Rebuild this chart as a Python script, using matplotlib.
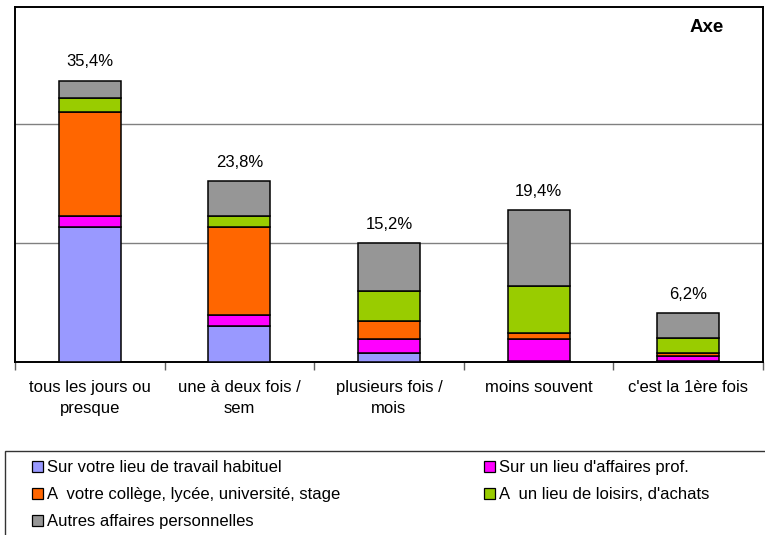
import matplotlib
matplotlib.use('Agg')
import matplotlib.pyplot as plt
from matplotlib.patches import Rectangle, Patch
import numpy as np

plt.rcParams['font.family'] = ['Liberation Sans', 'DejaVu Sans']

# Data (percent)
categories = ['tous les jours ou\npresque', 'une à deux fois /\nsem', 'plusieurs fois /\nmois',
              'moins souvent', "c'est la 1ère fois"]
travail = [17.1, 4.6, 1.2, 0.2, 0.15]
affaires_prof = [1.3, 1.3, 1.7, 2.7, 0.7]
college = [13.1, 11.2, 2.3, 0.8, 0.3]
loisirs = [1.8, 1.3, 3.8, 5.9, 1.85]
autres = [2.2, 4.4, 6.0, 9.6, 3.2]
total_labels = ['35,4%', '23,8%', '15,2%', '19,4%', '6,2%']

series = [
    ('Sur votre lieu de travail habituel', travail, '#9999FF'),
    ("Sur un lieu d'affaires prof.", affaires_prof, '#FF00FF'),
    ('A  votre collège, lycée, université, stage', college, '#FF6600'),
    ("A  un lieu de loisirs, d'achats", loisirs, '#99CC00'),
    ('Autres affaires personnelles', autres, '#969696'),
]

fig = plt.figure(figsize=(7.65, 5.35), dpi=100)
ax = fig.add_axes([15 / 765, 1 - 362.3 / 535, 748 / 765, 355.6 / 535])

x = np.arange(len(categories))
bottom = np.zeros(len(categories))
handles = []
for name, vals, color in series:
    ax.bar(x, vals, 0.414, bottom=bottom, color=color, edgecolor='black', linewidth=1.1, zorder=3)
    bottom += np.array(vals)
    handles.append(Patch(facecolor=color, edgecolor='black', linewidth=0.9, label=name))

# value labels above bars
for xi, top, lab in zip(x, bottom, total_labels):
    ax.annotate(lab, (xi, top), xytext=(0, 8), textcoords='offset points',
                ha='center', va='bottom', fontsize=12)

ax.set_xlim(-0.5, 4.5)
ax.set_ylim(0, 44.8)
ax.set_yticks([15, 30])
ax.yaxis.grid(True, color='#808080', linewidth=1.0, zorder=0)
ax.tick_params(axis='y', length=0, labelleft=False)

ax.set_xticks(np.arange(-0.5, 5, 1))
ax.set_xticklabels([])
ax.set_xticks(x, minor=True)
ax.set_xticklabels(categories, minor=True, fontsize=12, linespacing=1.5)
ax.tick_params(axis='x', which='major', length=6, width=1, color='#606060', direction='out')
ax.tick_params(axis='x', which='minor', length=0, pad=13)
for s in ax.spines.values():
    s.set_linewidth(1.4)
    s.set_color('black')

fig.text(707 / 765, 1 - 27 / 535, 'Axe', fontsize=13.5, fontweight='bold', ha='center', va='center')

# legend frame (runs off the right and bottom edges)
fig.add_artist(Rectangle((5 / 765, -0.1), 1.2, (1 - 451 / 535) + 0.1, transform=fig.transFigure,
                         fill=False, edgecolor='#333333', linewidth=1.0, clip_on=False))

common = dict(loc='upper left', frameon=False, fontsize=12, borderpad=0, borderaxespad=0,
              handlelength=0.66, handleheight=0.66, handletextpad=0.25, labelspacing=0.72)
fig.legend(handles=[handles[0], handles[2], handles[4]], bbox_to_anchor=(32 / 765, 1 - 460 / 535), **common)
fig.legend(handles=[handles[1], handles[3]], bbox_to_anchor=(484 / 765, 1 - 460 / 535), **common)

fig.savefig('out.png', dpi=100)
